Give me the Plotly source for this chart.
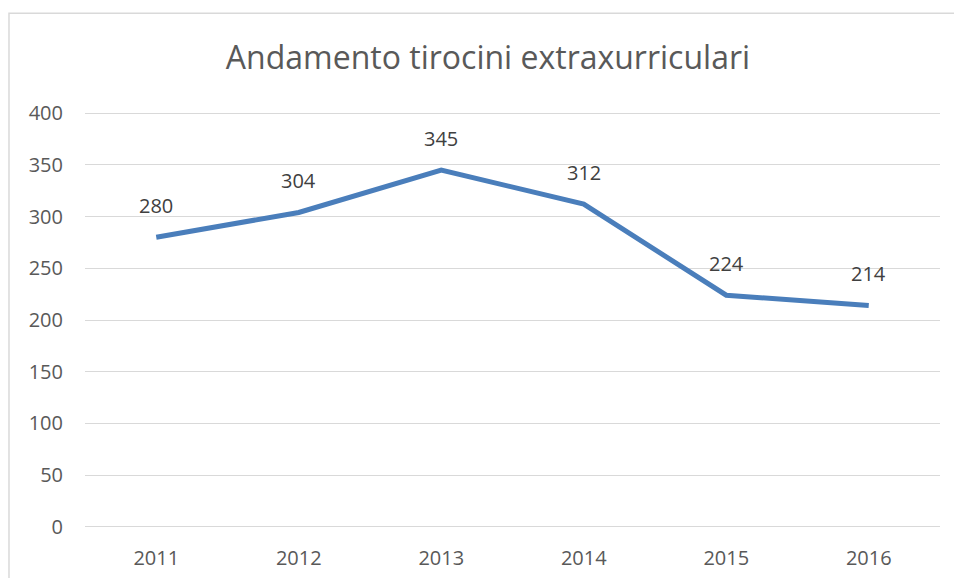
import plotly.graph_objects as go

years = ["2011", "2012", "2013", "2014", "2015", "2016"]
tirocini = [280, 304, 345, 312, 224, 214]
y_ticks = [0, 50, 100, 150, 200, 250, 300, 350, 400]

grey_text = "#595959"
grid = "#D9D9D9"
font_family = "Open Sans, Noto Sans, sans-serif"

fig = go.Figure()
fig.add_trace(go.Scatter(
    x=years,
    y=tirocini,
    mode="lines",
    line=dict(color="#4A7EBB", width=5),
    hoverinfo="x+y",
))

# data labels above each point
for i, val in enumerate(tirocini):
    fig.add_annotation(
        x=i, y=val, xref="x", yref="y", text=str(val),
        showarrow=False, yshift=32,
        font=dict(family=font_family, size=20, color="#404040"),
    )

# chart border (left/top visible in the reference)
fig.add_shape(type="rect", xref="paper", yref="paper",
              x0=-0.0889, x1=1.2, y0=-0.3, y1=1.2235,
              line=dict(color="#D9D9D9", width=1.5), fillcolor="rgba(0,0,0,0)",
              layer="below")

# range padded so the 0 and 400 gridlines are drawn
fig.update_layout(
    width=954, height=578,
    paper_bgcolor="#fff",
    plot_bgcolor="#fff",
    showlegend=False,
    margin=dict(l=85, r=14, t=108, b=46),
    title=dict(
        text="Andamento tirocini extraxurriculari",
        x=0.5115, xanchor="center", xref="container",
        y=1 - 58 / 578, yanchor="middle", yref="container",
        font=dict(family=font_family, size=32, color=grey_text),
    ),
    xaxis=dict(
        type="category",
        range=[-0.5, 5.5],
        automargin=False,
        showgrid=False,
        showline=False,
        zeroline=False,
        ticks="",
        ticklabelstandoff=12,
        tickfont=dict(family=font_family, size=20, color=grey_text),
    ),
    yaxis=dict(
        range=[-5, 405],
        tickvals=y_ticks,
        automargin=False,
        showgrid=True,
        gridcolor=grid,
        gridwidth=1.2,
        zeroline=False,
        showline=False,
        ticks="",
        ticklabelstandoff=21,
        tickfont=dict(family=font_family, size=20, color=grey_text),
    ),
)

fig.write_html("out.html", config={"displayModeBar": False},
               post_script="document.body.style.margin='0';")
